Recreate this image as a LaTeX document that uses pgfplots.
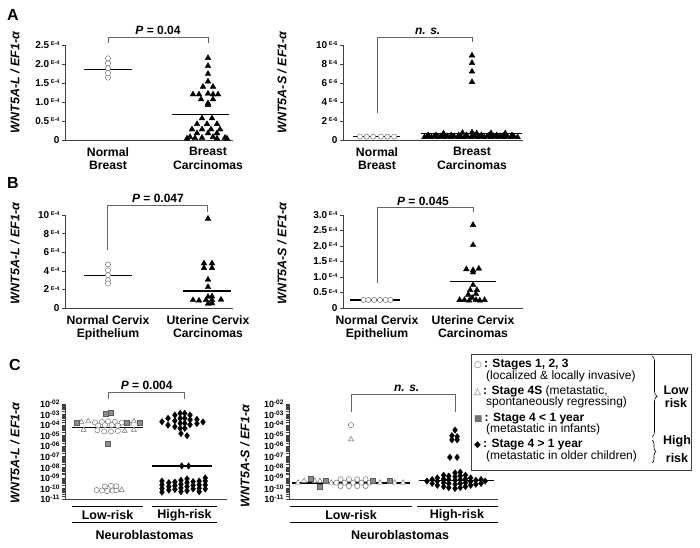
\documentclass[border=0pt]{standalone}
\usepackage{fontspec}
\setmainfont{Liberation Sans}
\newfontfamily\symfont{DejaVu Sans}
\usepackage{pgfplots}
\pgfplotsset{compat=1.18}
\usetikzlibrary{decorations.pathreplacing}
\newcommand{\E}[1]{\,{\fontsize{5.5}{5.5}\selectfont\raisebox{2.8pt}{E-#1}}}
\newcommand{\Ex}[1]{{\fontsize{6.5}{6.5}\selectfont\raisebox{3pt}{-#1}}}
\begin{document}
\begin{tikzpicture}[x=1pt,y=1pt]
\useasboundingbox (0,0) rectangle (700,547);
\pgfplotsset{
  panel/.style={
    scale only axis, anchor=south west,
    axis lines*=left,
    axis line style={black!75, line width=0.7pt},
    clip=false,
    xtick style={draw=none},
    ytick style={black!75, line width=0.6pt},
    tick align=outside, major tick length=3pt,
    yticklabel style={font=\fontsize{10}{10}\selectfont\bfseries, xshift=1pt},
    xticklabel style={align=center, font=\fontsize{12.2}{13.5}\selectfont\bfseries, yshift=-1pt},
  },
  circ/.style={only marks, mark=*, mark size=2.6pt, mark options={draw=black!55, fill=white, line width=0.5pt}},
  otri/.style={only marks, mark=triangle*, mark size=3pt, mark options={draw=black!55, fill=white, line width=0.5pt}},
  btri/.style={only marks, mark=triangle*, mark size=3.3pt, mark options={draw=black, fill=black}},
  sq/.style={only marks, mark=square*, mark size=2.5pt, mark options={draw=black!65, fill=black!45, line width=0.4pt}},
  dia/.style={only marks, mark=diamond*, mark size=3.2pt, mark options={draw=black, fill=black}},
  mean/.style={no marks, black, line width=1.3pt},
}
% ---------------- A left
\begin{axis}[panel, at={(65pt,407pt)}, width=168pt, height=95pt,
  xmin=-0.43, xmax=1.25, ymin=0, ymax=2.5,
  ytick={0,0.5,1,1.5,2,2.5},
  yticklabels={0, 0.5\E{4}, 1.0\E{4}, 1.5\E{4}, 2.0\E{4}, 2.5\E{4}},
  xtick={0,1}, xticklabels={{Normal\\Breast},{Breast\\Carcinomas}}]
\addplot[mean] coordinates {(-0.24,1.86) (0.24,1.86)};
\addplot[circ] coordinates {(0,2.15) (0,2.02) (0,1.89) (0,1.76) (0,1.64)};
\addplot[btri] coordinates {(1,2.16) (1,1.95) (1,1.74) (1,1.54)
 (0.95,1.40) (1.05,1.40) (0.85,1.20) (0.91,1.20) (1.0,1.22) (1.05,1.20) (1.1,1.20)
 (0.93,1.07) (1.05,1.07) (1,0.97) (1,0.92)
 (0.94,0.57) (1.04,0.57) (0.89,0.42) (0.99,0.42) (1.09,0.42)
 (0.84,0.28) (0.94,0.28) (1.03,0.28) (1.12,0.28)
 (0.89,0.18) (1,0.18) (1.09,0.18)
 (0.82,0.08) (0.94,0.06) (1.05,0.08) (1.17,0.06)
 (0.79,0.04) (0.87,0.05) (1.09,0.04) (1.19,0.04)};
\addplot[mean] coordinates {(0.64,0.68) (1.21,0.68)};
\end{axis}
% ---------------- A right
\begin{axis}[panel, at={(343pt,407pt)}, width=180pt, height=95pt,
  xmin=-0.358, xmax=1.537, ymin=0, ymax=10,
  ytick={0,2,4,6,8,10},
  yticklabels={0, 2\E{6}, 4\E{6}, 6\E{6}, 8\E{6}, 10\E{6}},
  xtick={0,1}, xticklabels={{Normal\\Breast},{Breast\\Carcinomas}}]
\addplot[mean] coordinates {(-0.25,0.35) (0.24,0.35)};
\addplot[circ] coordinates {(-0.18,0.35) (-0.11,0.35) (-0.04,0.35) (0.04,0.35) (0.11,0.35) (0.18,0.35)};
\addplot[btri] coordinates {
 (0.50,0.3) (0.57,0.3) (0.64,0.3) (0.71,0.3) (0.78,0.3) (0.85,0.3) (0.92,0.3) (0.99,0.3)
 (1.06,0.3) (1.13,0.3) (1.20,0.3) (1.27,0.3) (1.34,0.3) (1.41,0.3) (1.48,0.3)
 (0.53,0.4) (0.60,0.4) (0.67,0.4) (0.74,0.4) (0.81,0.4) (0.88,0.4) (0.95,0.4) (1.02,0.4)
 (1.09,0.4) (1.16,0.4) (1.23,0.4) (1.30,0.4) (1.37,0.4) (1.44,0.4)
 (0.54,0.5) (0.62,0.5) (0.70,0.5) (0.78,0.5) (0.86,0.5) (0.94,0.5) (1.02,0.5)
 (1.10,0.5) (1.18,0.5) (1.26,0.5) (1.34,0.5) (1.42,0.5)
 (0.70,0.7) (0.90,0.75) (1.0,0.8) (1.05,0.7) (1.20,0.72) (1.35,0.7)
 (1,8.9) (1,8.1) (1,7.2) (1,6.1)};
\addplot[mean] coordinates {(0.46,0.72) (1.53,0.72)};
\end{axis}
% ---------------- B left
\begin{axis}[panel, at={(65pt,239pt)}, width=168pt, height=93pt,
  xmin=-0.43, xmax=1.25, ymin=0, ymax=10,
  ytick={0,2,4,6,8,10},
  yticklabels={0, 2\E{4}, 4\E{4}, 6\E{4}, 8\E{4}, 10\E{4}},
  xtick={0,1}, xticklabels={{Normal Cervix\\Epithelium},{Uterine Cervix\\Carcinomas}}]
\addplot[mean] coordinates {(-0.24,3.5) (0.24,3.5)};
\addplot[circ] coordinates {(0,4.68) (0,4.07) (0,3.53) (0,2.99) (0,2.63)};
\addplot[btri] coordinates {(1,9.6) (0.96,4.8) (1.04,4.8) (0.96,4.3) (1.04,4.3) (1,3.05) (1,2.25)
 (0.85,0.85) (0.91,0.8) (0.98,0.85) (1.04,0.85) (1.13,0.9) (1.0,1.2) (1.04,1.25) (1,0.45) (1.04,0.5)};
\addplot[mean] coordinates {(0.75,1.84) (1.23,1.84)};
\end{axis}
% ---------------- B right
\begin{axis}[panel, at={(343pt,239pt)}, width=180pt, height=93pt,
  xmin=-0.354, xmax=1.52, ymin=0, ymax=3,
  ytick={0,0.5,1,1.5,2,2.5,3},
  yticklabels={0, 0.5\E{4}, 1.0\E{4}, 1.5\E{4}, 2.0\E{4}, 2.5\E{4}, 3.0\E{4}},
  xtick={0,1}, xticklabels={{Normal Cervix\\Epithelium},{Uterine Cervix\\Carcinomas}}]
\addplot[mean] coordinates {(-0.28,0.26) (0.24,0.26)};
\addplot[circ] coordinates {(-0.14,0.26) (-0.09,0.26) (-0.03,0.26) (0.03,0.26) (0.09,0.26) (0.14,0.26)};
\addplot[btri] coordinates {(1,2.68) (1,2.03) (0.93,1.25) (1,1.22) (1.06,1.27) (1,1.15) (1,0.74)
 (0.97,0.58) (1.04,0.58) (0.95,0.43) (1.03,0.45) (0.99,0.33)
 (0.86,0.26) (0.91,0.26) (0.96,0.24) (1.03,0.26) (1.07,0.24) (1.12,0.26)};
\addplot[mean] coordinates {(0.76,0.85) (1.24,0.85)};
\end{axis}
% ---------------- C left
\begin{axis}[panel, at={(65pt,48pt)}, width=162pt, height=95pt,
  ymode=log, ymin=1e-11, ymax=1e-2,
  xmin=-0.566, xmax=1.566, xtick=\empty,
  yticklabel style={font=\fontsize{9}{9}\selectfont\bfseries},
  ytick={1e-11,1e-10,1e-9,1e-8,1e-7,1e-6,1e-5,1e-4,1e-3,1e-2},
  yticklabels={10\Ex{11},10\Ex{10},10\Ex{09},10\Ex{08},10\Ex{07},10\Ex{06},10\Ex{05},10\Ex{04},10\Ex{03},10\Ex{02}}]
\addplot[mean] coordinates {(-0.47,6.3e-5) (0.46,6.3e-5)};
\addplot[circ] coordinates {(-0.17,1.78e-4) (-0.08,2.0e-4) (0.0,2.24e-4) (0.09,2.0e-4) (0.18,1.78e-4)
 (-0.13,8.9e-5) (-0.04,1e-4) (0.05,1e-4) (0.13,8.9e-5)
 (-0.14,3.2e-5) (-0.05,2.5e-5) (0.04,2.5e-5) (0.13,2.8e-5)
 (-0.15,7.1e-11) (-0.08,6.3e-11) (-0.01,5.6e-11) (0.06,6.3e-11) (0.11,7.1e-11)
 (-0.04,1.6e-10) (0.04,1.8e-10) (0.11,1.6e-10)};
\addplot[otri] coordinates {(-0.35,2.0e-4) (-0.26,2.24e-4) (0.34,2.24e-4) (0.28,1.41e-4)
 (-0.32,3.5e-5) (0.22,2.8e-5) (0.34,3.5e-5) (0.18,7.1e-11)};
\addplot[sq] coordinates {(-0.41,1.78e-4) (0.24,1.6e-4) (0.42,1.78e-4) (-0.03,1.1e-3) (0.04,1.6e-3) (0.0,1.9e-6)};
\addplot[mean] coordinates {(0.58,1.35e-8) (1.37,1.35e-8)};
\addplot[dia] coordinates {
 (0.71,2.1e-4) (0.79,4.4e-4) (0.79,1e-4)
 (0.88,8.9e-4) (0.88,2.6e-4) (0.88,7.1e-5)
 (0.95,1.3e-3) (0.95,4.4e-4) (0.95,1.5e-4) (0.95,5e-5) (0.96,1.6e-5)
 (1.01,1.3e-3) (1.01,4.4e-4) (1.01,1.5e-4) (1.01,5e-5) (1.04,1e-5)
 (1.08,8.9e-4) (1.08,3.2e-4) (1.08,1.1e-4)
 (1.17,3.5e-4) (1.17,1.4e-4) (1.25,2e-4)
 (0.97,1.35e-8) (1.06,1.35e-8)
 (0.71,5e-10) (0.71,2.2e-10) (0.71,1e-10) (0.71,4.5e-11)
 (0.80,3.5e-10) (0.80,1.5e-10) (0.80,7e-11)
 (0.88,4e-10) (0.88,1.8e-10) (0.88,8e-11)
 (0.96,6e-10) (0.96,2.5e-10) (0.96,1.1e-10) (0.96,5e-11)
 (1.04,8e-10) (1.04,3.5e-10) (1.04,1.5e-10) (1.04,6e-11)
 (1.12,4.5e-10) (1.12,2e-10) (1.12,9e-11)
 (1.20,5e-10) (1.20,2.2e-10) (1.20,1e-10) (1.20,5e-11)
 (1.28,1e-9) (1.28,5e-10) (1.28,2.2e-10) (1.28,9e-11)};
\end{axis}
% ---------------- C right
\begin{axis}[panel, at={(289pt,48pt)}, width=209pt, height=95pt,
  ymode=log, ymin=1e-11, ymax=1e-2,
  xmin=-0.596, xmax=1.413, xtick=\empty,
  yticklabel style={font=\fontsize{9}{9}\selectfont\bfseries},
  ytick={1e-11,1e-10,1e-9,1e-8,1e-7,1e-6,1e-5,1e-4,1e-3,1e-2},
  yticklabels={10\Ex{11},10\Ex{10},10\Ex{09},10\Ex{08},10\Ex{07},10\Ex{06},10\Ex{05},10\Ex{04},10\Ex{03},10\Ex{02}}]
\addplot[mean] coordinates {(-0.57,3.3e-10) (0.57,3.3e-10)};
\addplot[circ] coordinates {(0,1e-4)
 (-0.10,7.4e-10) (-0.02,7.4e-10) (0.06,7.4e-10) (0.14,7.4e-10)
 (-0.14,3.5e-10) (-0.06,3.5e-10) (0.02,3.5e-10) (0.10,3.5e-10) (0.18,3.5e-10)
 (-0.10,1.7e-10) (-0.02,1.7e-10) (0.06,1.7e-10) (0.14,1.7e-10)};
\addplot[otri] coordinates {(0,4.5e-6) (-0.51,3.5e-10) (-0.45,5e-10) (-0.35,5e-10) (-0.30,5e-10)
 (-0.19,3.5e-10) (0.28,3.5e-10) (0.42,3.5e-10) (0.50,3.5e-10)};
\addplot[sq] coordinates {(-0.39,9e-10) (-0.30,1.5e-10) (-0.24,5e-10) (0.21,5e-10) (0.375,5e-10)};
\addplot[mean] coordinates {(0.65,5.4e-10) (1.37,5.4e-10)};
\addplot[dia] coordinates {(1.0,3.4e-5) (0.97,1e-5) (1.02,8e-6) (0.97,4e-6) (1.02,4e-6) (0.95,8.9e-8) (1.02,8.9e-8)
 (0.73,5e-10) (0.78,3e-10) (0.78,7e-10)
 (0.83,2e-10) (0.83,5e-10) (0.83,1e-9)
 (0.89,1.5e-10) (0.89,3.5e-10) (0.89,8e-10) (0.89,1.8e-9)
 (0.94,1.2e-10) (0.94,3e-10) (0.94,7e-10) (0.94,1.5e-9)
 (1.0,1e-10) (1.0,2.5e-10) (1.0,6e-10) (1.0,1.3e-9) (1.0,3e-9)
 (1.05,1.2e-10) (1.05,3e-10) (1.05,7e-10) (1.05,1.6e-9) (1.05,3.5e-9)
 (1.10,1.5e-10) (1.10,3.5e-10) (1.10,8e-10) (1.10,1.8e-9)
 (1.15,2e-10) (1.15,4.5e-10) (1.15,1e-9)
 (1.20,2.5e-10) (1.20,6e-10) (1.25,3e-10) (1.25,7e-10) (1.29,5e-10)};
\end{axis}
% ---------------- annotations
\begin{scope}[font=\bfseries]
\node[font=\fontsize{16}{16}\selectfont\bfseries] at (13,532) {A};
\node[font=\fontsize{16}{16}\selectfont\bfseries] at (13,364) {B};
\node[font=\fontsize{16}{16}\selectfont\bfseries] at (15,182) {C};
\end{scope}
\begin{scope}[every node/.style={rotate=90, font=\fontsize{12.5}{12.5}\selectfont\bfseries\itshape}]
\node at (15,464.5) {WNT5A-L / EF1-α};
\node at (282,464.5) {WNT5A-S / EF1-α};
\node at (15,293.5) {WNT5A-L / EF1-α};
\node at (282,293.5) {WNT5A-S / EF1-α};
\node at (15,94) {WNT5A-L / EF1-α};
\node at (245,91) {WNT5A-S / EF1-α};
\end{scope}
\begin{scope}[black!60, line width=0.7pt]
\draw (108,504) -- (108,509.3) -- (208,509.3) -- (208,504);
\draw (377,434) -- (377,509.3) -- (472,509.3) -- (472,505.3);
\draw (107,297) -- (107,342) -- (207,342) -- (207,335.3);
\draw (377,263.7) -- (377,339.3) -- (473,339.3) -- (473,335.3);
\draw (108,148) -- (108,155) -- (184,155) -- (184,148);
\draw (351,135.3) -- (351,153) -- (455,153) -- (455,135.3);
\end{scope}
\begin{scope}[every node/.style={font=\fontsize{12}{12}\selectfont\bfseries, anchor=base}]
\node at (158,512) {\itshape P\upshape{} = 0.04};
\node at (427.7,512) {\itshape n. s.};
\node at (158,344.5) {\itshape P\upshape{} = 0.047};
\node at (423,342) {\itshape P\upshape{} = 0.045};
\node at (146.7,157.5) {\itshape P\upshape{} = 0.004};
\node at (406.7,156) {\itshape n. s.};
\end{scope}
% under-axis groups
\begin{scope}[line width=1pt]
\draw (72,40.3) -- (143,40.3); \draw (152,40.3) -- (217,40.3); \draw (72,24.3) -- (217,24.3);
\draw (290,40.3) -- (412,40.3); \draw (417,40.3) -- (498,40.3); \draw (290,24.3) -- (498,24.3);
\end{scope}
\begin{scope}[every node/.style={font=\fontsize{12.5}{12.5}\selectfont\bfseries}]
\node at (107.5,32) {Low-risk};
\node at (184.5,32) {High-risk};
\node at (144.5,12) {Neuroblastomas};
\node at (351,32) {Low-risk};
\node at (457,32) {High-risk};
\node at (400,12) {Neuroblastomas};
\end{scope}
% legend
\draw[black!75, line width=0.8pt] (471.7,77) rectangle (691.7,193);
\begin{scope}[every node/.style={anchor=west, inner sep=0pt, font=\fontsize{12}{12}\selectfont}]
\node at (474,182) {{\symfont\fontsize{9}{9}\selectfont\color{black!60}○}\,\textbf{: Stages 1, 2, 3}};
\node at (486,171) {(localized \& locally invasive)};
\node at (474,155.3) {{\symfont\fontsize{9}{9}\selectfont\color{black!60}△}\,\textbf{: Stage 4S} (metastatic,};
\node at (486,144.3) {spontaneously regressing)};
\node at (474,128.7) {{\symfont\fontsize{9}{9}\selectfont\color{black!55}■}\,\textbf{: Stage 4 < 1 year}};
\node at (486,117.7) {(metastatic in infants)};
\node at (474,102) {{\symfont\fontsize{9}{9}\selectfont ◆}\,\textbf{: Stage 4 > 1 year}};
\node at (486,90.3) {(metastatic in older children)};
\end{scope}
\draw[decorate, decoration={brace, amplitude=5pt}, line width=0.6pt] (652,191) -- (652,110.3);
\draw[decorate, decoration={brace, amplitude=4pt}, line width=0.6pt] (652,107) -- (652,84);
\begin{scope}[every node/.style={font=\fontsize{12.5}{12.5}\selectfont\bfseries}]
\node at (676,157) {Low};
\node at (676,144) {risk};
\node at (677,106) {High};
\node at (677,89) {risk};
\end{scope}
\end{tikzpicture}
\end{document}
